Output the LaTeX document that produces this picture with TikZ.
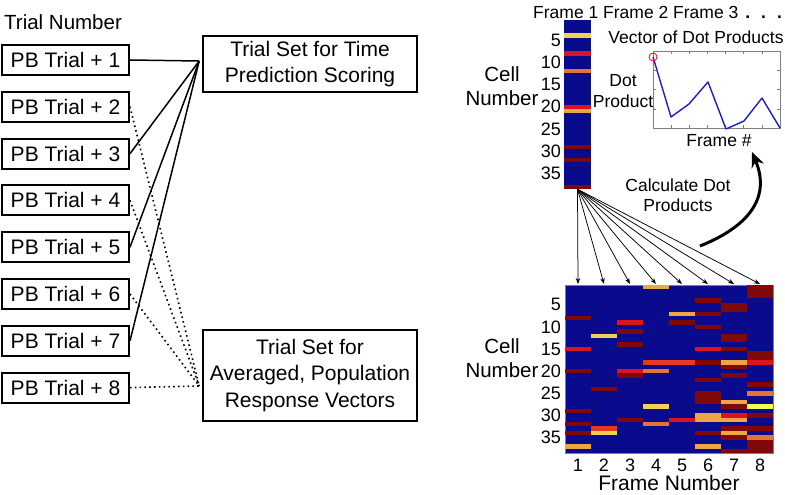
\documentclass[tikz,border=0pt]{standalone}
\usepackage{fontspec}
\setmainfont{Liberation Sans}
\usetikzlibrary{
  positioning,
  arrows.meta,
  calc,
}
\definecolor{heatBg}{HTML}{0A0A8C}
\definecolor{hotDark}{HTML}{800808}
\definecolor{hotRed}{HTML}{DC1420}
\definecolor{hotOrRed}{HTML}{E8381E}
\definecolor{hotOrange}{HTML}{E27434}
\definecolor{hotLight}{HTML}{EEA644}
\definecolor{hotYellow}{HTML}{F2D052}
\definecolor{hotBright}{HTML}{F0FF50}
\definecolor{plotBlue}{HTML}{1C1CD4}
\definecolor{axisGray}{HTML}{808080}
\tikzset{
  trialbox/.style={
    draw, line width=2pt, minimum width=127pt, minimum height=30pt,
    inner sep=0pt, font=\fontsize{21}{24}\selectfont,
  },
  setbox/.style={
    draw, line width=1.6pt, align=center, minimum width=214pt,
    inner sep=0pt, font=\fontsize{21}{26.5}\selectfont,
  },
  uselink/.style={line width=1.5pt},
  avglink/.style={line width=1.6pt, dash pattern=on 1.6pt off 3.2pt},
  biglabel/.style={font=\fontsize{20.5}{23.5}\selectfont, align=center, inner sep=0pt},
  smalllabel/.style={font=\fontsize{17.5}{21}\selectfont, align=center, inner sep=0pt},
  ticklabel/.style={font=\fontsize{18}{20}\selectfont, inner sep=0pt},
  fanarrow/.style={-{Stealth[length=6pt,width=4.5pt]}, line width=0.75pt},
  bigarrow/.style={-{Stealth[length=15pt,width=13pt]}, line width=3pt},
}

\begin{document}
\begin{tikzpicture}[x=1pt, y=-1pt]
  \useasboundingbox (0,0) rectangle (785,495);

  % Trials
  \node[biglabel, anchor=west] (trialhead) at (4,22) {Trial Number};
  \foreach \i in {1,...,8}
    \node[trialbox] (pb\i) at (65.5,{60+(\i-1)*46.8}) {PB Trial + \i};

  % Trial sets
  \node[setbox, minimum height=56pt] (setTime) at (310,64) {Trial Set for Time\\Prediction Scoring};
  \node[setbox, minimum height=91pt] (setAvg) at (310,375.5) {Trial Set for\\Averaged, Population\\Response Vectors};
  \coordinate (hubTime) at ($(setTime.west)+(-3,-3)$);
  \coordinate (hubAvg) at ($(setAvg.west)+(-3,10.5)$);

  \foreach \i in {1,3,5,7}
    \draw[uselink] (pb\i.east) -- (hubTime);
  \foreach \i in {2,4,6,8}
    \draw[avglink] (pb\i.east) -- (hubAvg);

  % Frame 1 vector
  \node[smalllabel, anchor=west] (framehead) at (533,12)
    {Frame 1 Frame 2 Frame 3\hspace{7pt}\textbf{.}\hspace{11pt}\textbf{.}\hspace{11pt}\textbf{.}};
  \node[fill=heatBg, inner sep=0pt, minimum width=27pt, minimum height=169pt] (vec) at (577.5,104.5) {};
  \foreach \r/\c in {4/hotYellow, 8/hotRed, 12/hotOrange, 20/hotRed, 21/hotLight,
                     29/hotDark, 32/hotDark, 38/hotDark}
    \fill[\c] (564,{20+(\r-1)*4.45}) rectangle ++(27,4.45);
  \foreach \t in {5,10,...,35}
    \node[ticklabel, anchor=east] (vt\t) at (561,{20+(\t-0.5)*4.45}) {\t};
  \node[biglabel] (veclab) at (502,86) {Cell\\Number};

  % Dot product plot
  \node[smalllabel] (plottitle) at (696,37) {Vector of Dot Products};
  \draw[axisGray, line width=0.6pt] (653,51) rectangle (780,128);
  \foreach \k in {1,...,6} {
    \draw[axisGray, line width=0.6pt] ({653+\k*18.14},51) -- ++(0,3);
    \draw[axisGray, line width=0.6pt] ({653+\k*18.14},128) -- ++(0,-3);
  }
  \foreach \y in {70,89.5,109} {
    \draw[axisGray, line width=0.6pt] (653,\y) -- ++(3,0);
    \draw[axisGray, line width=0.6pt] (780,\y) -- ++(-3,0);
  }
  \draw[plotBlue, line width=1.4pt, line join=round]
    (653,57) -- (671,117) -- (689,104) -- (708,82) -- (726,129) -- (744,121) -- (762,98) -- (780,128);
  \draw[red, line width=0.8pt] (653,57) circle (4pt);
  \node[smalllabel] (dotlab) at (623,91) {Dot\\Product};
  \node[smalllabel] (framelab) at (719,141) {Frame \#};

  % Calculate
  \node[smalllabel, font=\fontsize{17.5}{20}\selectfont] (calclab) at (678,195) {Calculate Dot\\Products};
  \coordinate (curveS) at (700,246);
  \coordinate (curveE) at (752,152);
  \draw[bigarrow] (curveS) .. controls (745,228) and (772,200) .. (curveE);

  % Frame responses
  \node[fill=heatBg, draw=axisGray, line width=0.4pt, inner sep=0pt,
        minimum width=208pt, minimum height=168pt] (heat) at (669,369) {};
  \foreach \k/\r/\c in {
      1/8/hotDark, 1/15/hotRed, 1/20/hotDark, 1/29/hotDark, 1/32/hotDark, 1/34/hotDark, 1/37/hotLight,
      2/12/hotYellow, 2/24/hotDark, 2/33/hotOrRed, 2/34/hotYellow,
      3/9/hotRed, 3/11/hotDark, 3/14/hotDark, 3/20/hotRed, 3/21/hotDark, 3/31/hotDark,
      4/1/hotLight, 4/18/hotOrRed, 4/20/hotOrange, 4/28/hotYellow, 4/32/hotOrange,
      5/7/hotLight, 5/9/hotDark, 5/18/hotOrRed, 5/31/hotRed,
      6/4/hotDark, 6/7/hotDark, 6/10/hotDark, 6/15/hotRed, 6/18/hotDark, 6/22/hotDark,
      6/25/hotDark, 6/26/hotDark, 6/27/hotDark, 6/30/hotLight, 6/31/hotLight, 6/34/hotDark, 6/37/hotLight,
      7/5/hotDark, 7/6/hotDark, 7/12/hotDark, 7/13/hotDark, 7/15/hotDark, 7/18/hotLight, 7/19/hotDark,
      7/21/hotDark, 7/27/hotLight, 7/28/hotDark, 7/30/hotRed, 7/31/hotLight, 7/33/hotDark,
      7/34/hotLight, 7/35/hotDark, 7/38/hotDark,
      8/1/hotDark, 8/2/hotDark, 8/3/hotDark, 8/16/hotDark, 8/17/hotDark, 8/18/hotRed, 8/23/hotDark,
      8/25/hotOrange, 8/28/hotBright, 8/30/hotDark, 8/33/hotDark, 8/35/hotOrange,
      8/36/hotDark, 8/37/hotDark, 8/38/hotDark}
    \fill[\c] ({565+(\k-1)*26},{285+(\r-1)*4.42}) rectangle ++(26,4.42);
  \foreach \t in {5,10,...,35}
    \node[ticklabel, anchor=east] (ht\t) at (561,{285+(\t-0.5)*4.42}) {\t};
  \foreach \k in {1,...,8}
    \node[ticklabel] (hx\k) at ({578+(\k-1)*26},465) {\k};
  \node[biglabel] (heatlab) at (502,358) {Cell\\Number};
  \node[biglabel, font=\fontsize{21}{24}\selectfont] (heatxlab) at (669,483) {Frame Number};

  % Fan of arrows
  \foreach \k in {1,...,8} {
    \coordinate (tip\k) at ({578+(\k-1)*26},284);
    \draw[fanarrow] (vec.south) -- (tip\k);
  }

\end{tikzpicture}
\end{document}
